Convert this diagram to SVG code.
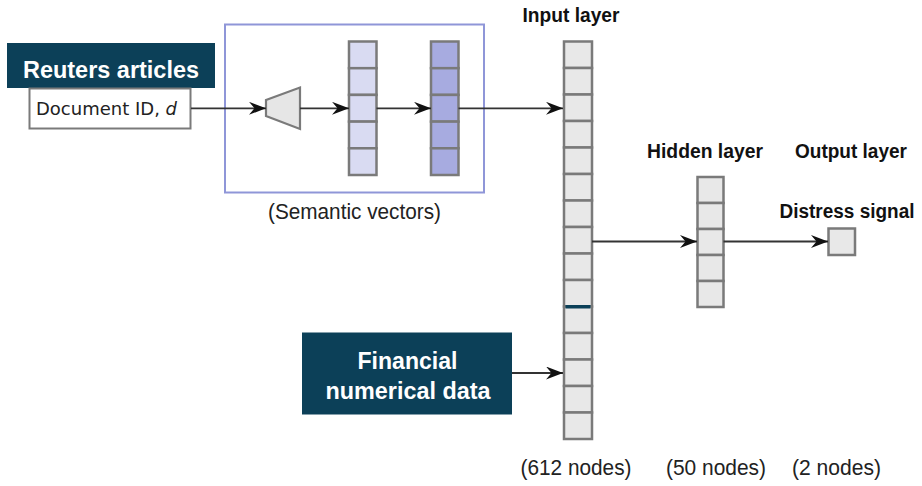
<svg xmlns="http://www.w3.org/2000/svg" width="922" height="486" viewBox="0 0 922 486">
<defs>
<style>
.lbl{font-family:"Liberation Sans",Arial,sans-serif;font-weight:bold;font-size:21px;fill:#111}
.reg{font-family:"Liberation Sans",Arial,sans-serif;font-size:22.5px;fill:#222}
.wt{font-family:"Liberation Sans",Arial,sans-serif;font-weight:bold;font-size:24px;fill:#fff}
.cell{fill:#e8e8e8;stroke:#7a7a7a;stroke-width:2.5}
.v1{fill:#d9dbf2;stroke:#7a7a7a;stroke-width:2.5}
.v2{fill:#a7abe0;stroke:#7a7a7a;stroke-width:2.5}
.dark{fill:#0c4058}
.conn{stroke:#333;stroke-width:1.8;fill:none;marker-end:url(#arr)}
</style>
<marker id="arr" viewBox="0 0 17 13" refX="17" refY="6.5" markerWidth="17" markerHeight="13" markerUnits="userSpaceOnUse" orient="auto">
<path d="M0,0 L17,6.5 L0,13 L5.5,6.5 z" fill="#111"/>
</marker>
</defs>
<rect width="922" height="486" fill="#fff"/>

<g id="semantic-box">
<rect x="225" y="24.5" width="259" height="168" fill="none" stroke="#8f96d8" stroke-width="2"/>
<text class="reg" x="354.5" y="219" text-anchor="middle" textLength="173" lengthAdjust="spacingAndGlyphs">(Semantic vectors)</text>
</g>

<g id="reuters">
<rect class="dark" x="7" y="43" width="208" height="45"/>
<text class="wt" x="111" y="77.5" text-anchor="middle" textLength="176" lengthAdjust="spacingAndGlyphs">Reuters articles</text>
</g>

<g id="document-id">
<rect x="29.5" y="88.5" width="161" height="40" fill="#fff" stroke="#7a7a7a" stroke-width="2"/>
<text x="36" y="115" font-family="'DejaVu Sans',Verdana,sans-serif" font-size="18" fill="#222">Document ID, <tspan font-style="italic">d</tspan></text>
</g>

<g id="encoder">
<polygon points="266,100 300,87.5 300,129 266,116" fill="#e6e6e6" stroke="#7a7a7a" stroke-width="2.2"/>
</g>

<g id="vector1">
<rect class="v1" x="349" y="41.5" width="27.5" height="26.7"/>
<rect class="v1" x="349" y="68.2" width="27.5" height="26.7"/>
<rect class="v1" x="349" y="94.9" width="27.5" height="26.7"/>
<rect class="v1" x="349" y="121.6" width="27.5" height="26.7"/>
<rect class="v1" x="349" y="148.3" width="27.5" height="26.7"/>
</g>

<g id="vector2">
<rect class="v2" x="431" y="41.5" width="27.5" height="26.7"/>
<rect class="v2" x="431" y="68.2" width="27.5" height="26.7"/>
<rect class="v2" x="431" y="94.9" width="27.5" height="26.7"/>
<rect class="v2" x="431" y="121.6" width="27.5" height="26.7"/>
<rect class="v2" x="431" y="148.3" width="27.5" height="26.7"/>
</g>

<g id="input-layer">
<text class="lbl" x="571" y="21.5" text-anchor="middle" textLength="97" lengthAdjust="spacingAndGlyphs">Input layer</text>
<rect class="cell" x="564" y="41.5" width="28" height="26.5"/>
<rect class="cell" x="564" y="68" width="28" height="26.5"/>
<rect class="cell" x="564" y="94.5" width="28" height="26.5"/>
<rect class="cell" x="564" y="121" width="28" height="26.5"/>
<rect class="cell" x="564" y="147.5" width="28" height="26.5"/>
<rect class="cell" x="564" y="174" width="28" height="26.5"/>
<rect class="cell" x="564" y="200.5" width="28" height="26.5"/>
<rect class="cell" x="564" y="227" width="28" height="26.5"/>
<rect class="cell" x="564" y="253.5" width="28" height="26.5"/>
<rect class="cell" x="564" y="280" width="28" height="26.5"/>
<rect class="cell" x="564" y="306.5" width="28" height="26.5"/>
<rect class="cell" x="564" y="333" width="28" height="26.5"/>
<rect class="cell" x="564" y="359.5" width="28" height="26.5"/>
<rect class="cell" x="564" y="386" width="28" height="26.5"/>
<rect class="cell" x="564" y="412.5" width="28" height="26.5"/>
<rect class="dark" x="565.5" y="305" width="25" height="3.5"/>
<text class="reg" x="576" y="475" text-anchor="middle" textLength="111" lengthAdjust="spacingAndGlyphs">(612 nodes)</text>
</g>

<g id="hidden-layer">
<text class="lbl" x="705" y="157.5" text-anchor="middle" textLength="116" lengthAdjust="spacingAndGlyphs">Hidden layer</text>
<rect class="cell" x="697.5" y="177" width="26" height="26"/>
<rect class="cell" x="697.5" y="203" width="26" height="26"/>
<rect class="cell" x="697.5" y="229" width="26" height="26"/>
<rect class="cell" x="697.5" y="255" width="26" height="26"/>
<rect class="cell" x="697.5" y="281" width="26" height="26"/>
<text class="reg" x="716" y="475" text-anchor="middle" textLength="100" lengthAdjust="spacingAndGlyphs">(50 nodes)</text>
</g>

<g id="output-layer">
<text class="lbl" x="851" y="157.5" text-anchor="middle" textLength="112" lengthAdjust="spacingAndGlyphs">Output layer</text>
<text class="lbl" x="847" y="217.5" text-anchor="middle" font-size="19.5" textLength="135" lengthAdjust="spacingAndGlyphs" style="font-size:19.5px">Distress signal</text>
<rect class="cell" x="828.5" y="228.5" width="26.5" height="26.5"/>
<text class="reg" x="836.5" y="475" text-anchor="middle" textLength="89" lengthAdjust="spacingAndGlyphs">(2 nodes)</text>
</g>

<g id="financial">
<rect class="dark" x="302" y="332.5" width="210" height="82"/>
<text class="wt" x="407.5" y="368.5" text-anchor="middle" textLength="100" lengthAdjust="spacingAndGlyphs">Financial</text>
<text class="wt" x="408" y="398.5" text-anchor="middle" textLength="165" lengthAdjust="spacingAndGlyphs">numerical data</text>
</g>

<g id="connectors">
<line class="conn" x1="191" y1="108.3" x2="266" y2="108.3"/>
<line class="conn" x1="300" y1="108.3" x2="349" y2="108.3"/>
<line class="conn" x1="376.5" y1="108.3" x2="431" y2="108.3"/>
<line class="conn" x1="458.5" y1="108.3" x2="563" y2="108.3"/>
<line class="conn" x1="512" y1="373" x2="563" y2="373"/>
<line class="conn" x1="592" y1="241.5" x2="697" y2="241.5"/>
<line class="conn" x1="723.5" y1="241.5" x2="828" y2="241.5"/>
</g>
</svg>
